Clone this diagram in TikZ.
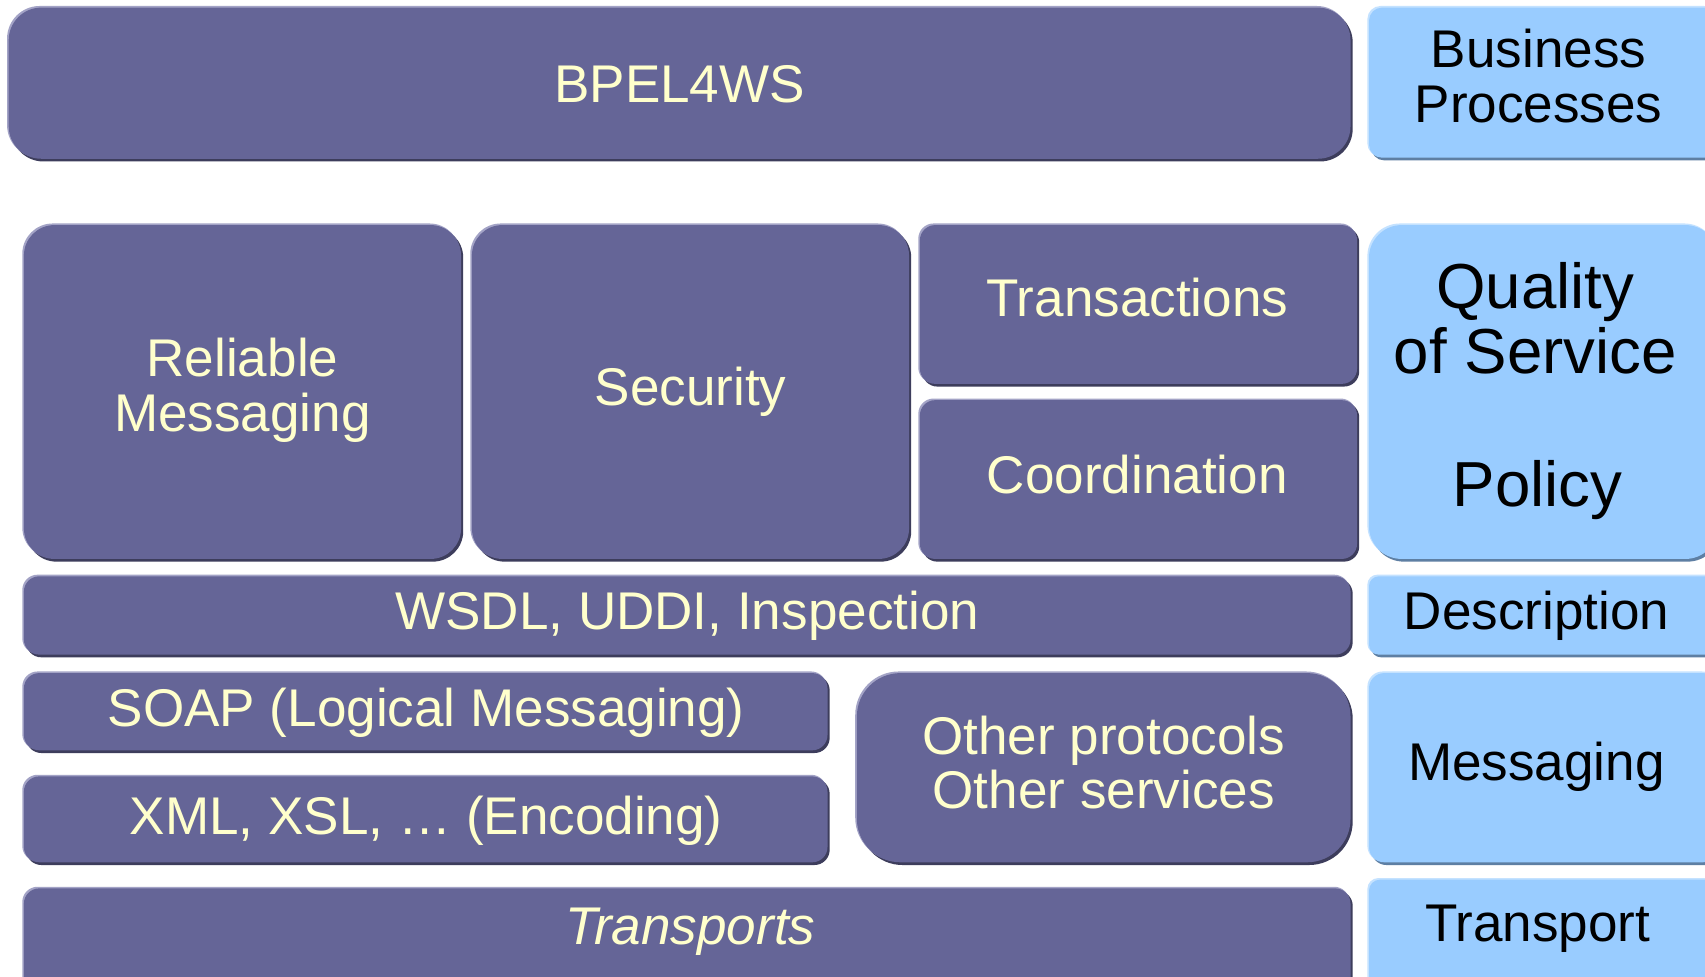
\documentclass[tikz,border=0pt]{standalone}
\usepackage{fontspec}
\setmainfont{Liberation Sans}
\definecolor{Pmain}{HTML}{656597}
\definecolor{Pdark}{HTML}{3D3D5C}
\definecolor{Plight}{HTML}{A3A3C6}
\definecolor{Bmain}{HTML}{99CCFF}
\definecolor{Bdark}{HTML}{5E7FA3}
\definecolor{Blight}{HTML}{C4E2FF}
\definecolor{cream}{HTML}{FFFFCC}
\newcommand\layerbox[6]{%
  \fill[#6dark, rounded corners=#5pt] (#1+2,#2+2) rectangle (#3+2,#4+2.5);
  \fill[#6light, rounded corners=#5pt] (#1-1.5,#2-1.5) rectangle (#3-1,#4-1);
  \fill[#6main, rounded corners=#5pt] (#1,#2) rectangle (#3,#4);
}
\tikzset{
  ptxt/.style={text=cream, font=\fontsize{48.8}{50}\selectfont, align=center, inner sep=0pt},
  btxt/.style={text=black, font=\fontsize{48.8}{50}\selectfont, align=center, inner sep=0pt},
  qtxt/.style={text=black, font=\fontsize{58.5}{60}\selectfont, align=center, inner sep=0pt},
}
\begin{document}
\begin{tikzpicture}[x=1pt,y=-1pt]
\useasboundingbox (0,0) rectangle (1568,898);
\fill[white] (0,0) rectangle (1568,898);
\clip (0,0) rectangle (1568,898);
% boxes
\layerbox{8}{7}{1242}{146}{30}{P}
\layerbox{1259}{7}{1580}{145}{12}{B}
\layerbox{22}{207}{424}{514}{28}{P}
\layerbox{434}{207}{836}{514}{28}{P}
\layerbox{846}{207}{1248}{353}{14}{P}
\layerbox{846}{368}{1248}{514}{14}{P}
\layerbox{1259}{207}{1580}{514}{30}{B}
\layerbox{22}{530}{1242}{602}{14}{P}
\layerbox{1259}{530}{1580}{602}{9}{B}
\layerbox{22}{619}{761}{690}{14}{P}
\layerbox{22}{714}{761}{793}{14}{P}
\layerbox{788}{619}{1242}{793}{40}{P}
\layerbox{1259}{619}{1580}{793}{14}{B}
\layerbox{22}{817}{1242}{920}{14}{P}
\layerbox{1259}{809}{1580}{920}{10}{B}
% texts
\node[ptxt, anchor=base] (bpel) at (625,94) {BPEL4WS};
\node[btxt] (bproc) at (1415,70) {Business\\Processes};
\node[ptxt] (relmsg) at (223,359) {Reliable\\Messaging};
\node[ptxt, anchor=base] (sec) at (635,373) {Security};
\node[ptxt, anchor=base] (trans) at (1046,291) {Transactions};
\node[ptxt, anchor=base] (coord) at (1046,454) {Coordination};
\node[qtxt] (qos) at (1412,293) {Quality\\of Service};
\node[qtxt, anchor=base] (policy) at (1414,466) {Policy};
\node[ptxt, anchor=base] (wsdl) at (632,579) {WSDL, UDDI, Inspection};
\node[btxt, anchor=base] (desc) at (1413,579) {Description};
\node[ptxt, anchor=base] (soap) at (392,668) {SOAP (Logical Messaging)};
\node[ptxt, anchor=base] (xml) at (392,767) {XML, XSL, \dots{} (Encoding)};
\node[ptxt] (other) at (1015,701) {Other protocols\\Other services};
\node[btxt, anchor=base] (msg) at (1413,718) {Messaging};
\node[ptxt, anchor=base, font=\fontsize{48.8}{50}\selectfont\itshape] (tps) at (635,869) {Transports};
\node[btxt, anchor=base] (tp) at (1414,866) {Transport};
\end{tikzpicture}
\end{document}
